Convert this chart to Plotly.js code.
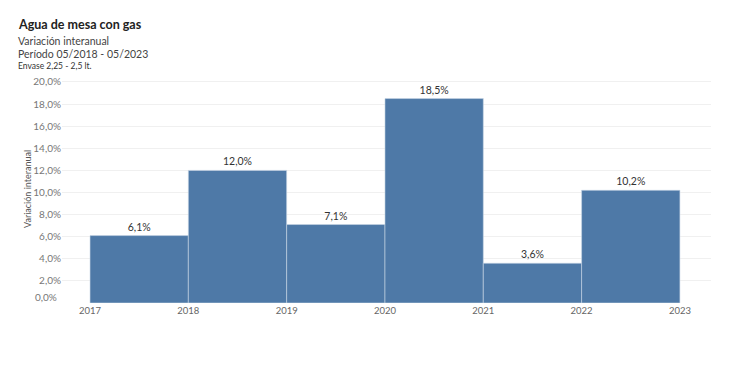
<!DOCTYPE html>
<html><head><meta charset="utf-8">
<script src="https://cdn.plot.ly/plotly-3.0.1.min.js"></script>
<style>html,body{margin:0;padding:0;background:#fff}#c{width:730px;height:389px}</style>
</head><body><div id="c"></div>
<script>
const periodStart = [2017, 2018, 2019, 2020, 2021, 2022];
const variacion = [6.1, 12.0, 7.1, 18.5, 3.6, 10.2];
const tickYears = [2017, 2018, 2019, 2020, 2021, 2022, 2023];
const yTicks = [0, 2, 4, 6, 8, 10, 12, 14, 16, 18, 20];
const titleText = 'Agua de mesa con gas';
const subtitle1 = 'Variación interanual';
const subtitle2 = 'Período 05/2018 - 05/2023';
const subtitle3 = 'Envase 2,25 - 2,5 lt.';
const yTitle = 'Variación interanual';

const W = 730, H = 389;
const m = {l: 62, r: 19, t: 80, b: 86};
const ph = H - m.t - m.b, pw = W - m.l - m.r;
const px = x => (x - m.l) / pw;
const py = y => (H - m.b - y) / ph;
const FONT = 'Lato, "Noto Sans", sans-serif';
const fmt = v => v.toFixed(1).replace('.', ',') + '%';

const trace = {
  type: 'bar',
  x: periodStart.map(v => v + 0.5),
  y: variacion,
  width: 1,
  marker: {color: '#4e79a7', line: {color: '#c9d6e6', width: 0.6}},
  text: variacion.map(fmt),
  textposition: 'outside',
  cliponaxis: false,
  textfont: {family: FONT, size: 10.5, color: '#333333'},
  hoverinfo: 'skip'
};

const layout = {
  width: W, height: H,
  margin: m,
  paper_bgcolor: '#ffffff', plot_bgcolor: '#ffffff',
  showlegend: false,
  separators: ',.',
  bargap: 0,
  xaxis: {
    range: [2016.715, 2023.316],
    tickvals: tickYears, ticktext: tickYears.map(String),
    showgrid: false, zeroline: false, showline: false,
    ticks: '', ticklen: 0, ticklabelstandoff: 0,
    tickfont: {family: FONT, size: 9.5, color: '#666666'}
  },
  yaxis: {
    range: [0, 20.18],
    tickvals: yTicks,
    ticktext: yTicks.map(v => v === 0 ? '' : fmt(v)),
    showgrid: true, gridcolor: '#f0f0f0', gridwidth: 1,
    zeroline: false, showline: false, ticks: '',
    tickfont: {family: FONT, size: 10, color: '#777777'}
  },
  annotations: [
    {text: '<b>' + titleText + '</b>', xref:'paper', yref:'paper', x: px(16), y: py(25), xanchor:'left', yanchor:'middle', showarrow:false, font:{family: FONT, size: 12.5, color:'#222222'}},
    {text: subtitle1, xref:'paper', yref:'paper', x: px(16), y: py(41), xanchor:'left', yanchor:'middle', showarrow:false, font:{family: FONT, size: 10.5, color:'#444444'}},
    {text: subtitle2, xref:'paper', yref:'paper', x: px(16), y: py(54), xanchor:'left', yanchor:'middle', showarrow:false, font:{family: FONT, size: 10.5, color:'#444444'}},
    {text: subtitle3, xref:'paper', yref:'paper', x: px(16), y: py(66), xanchor:'left', yanchor:'middle', showarrow:false, font:{family: FONT, size: 8.5, color:'#333333'}},
    {text: fmt(yTicks[0]), xref:'paper', yref:'paper', x: px(59), y: py(297), xanchor:'right', yanchor:'middle', showarrow:false, font:{family: FONT, size: 10, color:'#777777'}},
    {text: yTitle, xref:'paper', yref:'paper', x: px(27), y: py(189), xanchor:'center', yanchor:'middle', textangle:-90, showarrow:false, font:{family: FONT, size: 9, color:'#555555'}}
  ]
};

Plotly.newPlot('c', [trace], layout, {staticPlot: true, displayModeBar: false});
</script></body></html>
